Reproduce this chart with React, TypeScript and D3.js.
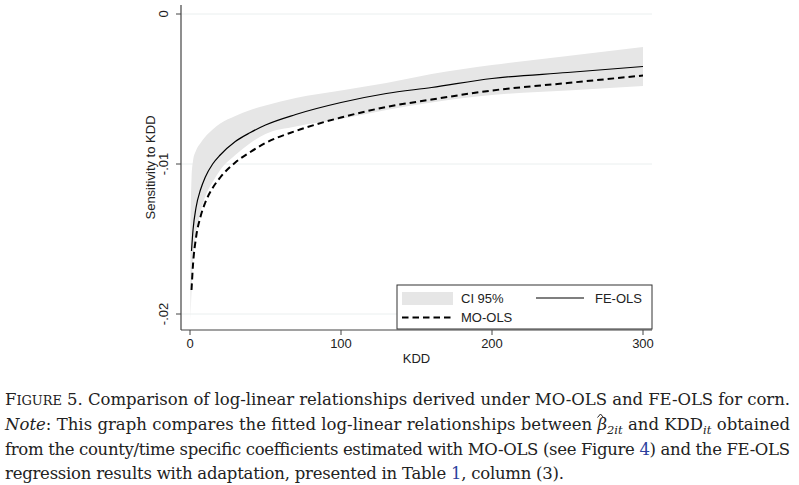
import React from "react";
import * as d3 from "d3";

// KDD grid and values
const kdd = [0.3, 1, 2, 4, 7, 10, 15, 20, 30, 40, 50, 70, 100, 130, 160, 200, 250, 300];
const feOls = [null, -0.0158, -0.0144, -0.0129, -0.0117, -0.0109, -0.01, -0.0094, -0.0085, -0.0079, -0.0074, -0.0067, -0.0059, -0.0053, -0.0049, -0.0043, -0.0039, -0.0035];
const moOls = [null, -0.0184, -0.0167, -0.0149, -0.0135, -0.0126, -0.0116, -0.0109, -0.0099, -0.0092, -0.0086, -0.0078, -0.0069, -0.0062, -0.0057, -0.0051, -0.0046, -0.0041];
const ciUpper = [-0.014, -0.011, -0.0098, -0.0091, -0.0086, -0.0082, -0.0077, -0.0073, -0.0068, -0.0064, -0.0061, -0.0056, -0.0051, -0.0046, -0.004, -0.0034, -0.0028, -0.0022];
const ciLower = [-0.0204, -0.0185, -0.0166, -0.0147, -0.0132, -0.0122, -0.0112, -0.0104, -0.0094, -0.0086, -0.008, -0.0075, -0.007, -0.0064, -0.0059, -0.0054, -0.0051, -0.0048];

const xTicks = [0, 100, 200, 300];
const yTicks = [0, -0.01, -0.02];
const yTickLabels = ["0", "-.01", "-.02"];

const W = 799;
const H = 485;
const left = 181;
const right = 652;
const top = 5;
const bottom = 330;

const sans = "'Liberation Sans', Arial, sans-serif";
const serif = "'DejaVu Serif', serif";
const linkBlue = "#2b3f9e";

export default function App() {
  const x = d3.scaleLinear().domain([0, 300]).range([190, 643]);
  const y = d3.scaleLinear().domain([-0.02, 0]).range([314, 14]);

  const rows = kdd.map((k, i) => ({ k, fe: feOls[i], mo: moOls[i], lo: ciLower[i], hi: ciUpper[i] }));

  const band = d3
    .area<any>()
    .x((d) => x(d.k))
    .y0((d) => y(d.lo))
    .y1((d) => y(d.hi))
    .curve(d3.curveMonotoneX)(rows);

  const feLine = d3
    .line<any>()
    .defined((d) => d.fe != null)
    .x((d) => x(d.k))
    .y((d) => y(d.fe))
    .curve(d3.curveMonotoneX)(rows);

  const moLine = d3
    .line<any>()
    .defined((d) => d.mo != null)
    .x((d) => x(d.k))
    .y((d) => y(d.mo))
    .curve(d3.curveMonotoneX)(rows);

  const axisColor = "#444";

  return (
    <svg width={W} height={H} style={{ position: "absolute", left: 0, top: 0, background: "#fff" }}>
      {/* grid */}
      {yTicks.map((t) => (
        <line key={"g" + t} x1={left} x2={right} y1={y(t)} y2={y(t)} stroke="#eaefef" strokeWidth={1} />
      ))}

      <path d={band!} fill="#e6e6e6" stroke="none" />
      <path d={feLine!} fill="none" stroke="#000" strokeWidth={1.2} />
      <path d={moLine!} fill="none" stroke="#000" strokeWidth={2} strokeDasharray="6.5,4" />

      {/* axes */}
      <line x1={left} x2={left} y1={top} y2={bottom} stroke={axisColor} strokeWidth={1.2} />
      <line x1={left} x2={right} y1={bottom} y2={bottom} stroke={axisColor} strokeWidth={1.2} />
      {yTicks.map((t, i) => (
        <g key={"y" + t}>
          <line x1={left - 5} x2={left} y1={y(t)} y2={y(t)} stroke={axisColor} />
          <text
            transform={`translate(168,${y(t)}) rotate(-90)`}
            textAnchor="middle"
            fontFamily={sans}
            fontSize={13}
            fill="#222"
          >
            {yTickLabels[i]}
          </text>
        </g>
      ))}
      {xTicks.map((t) => (
        <g key={"x" + t}>
          <line x1={x(t)} x2={x(t)} y1={bottom} y2={bottom + 5} stroke={axisColor} />
          <text x={x(t)} y={348} textAnchor="middle" fontFamily={sans} fontSize={13} fill="#222">
            {t}
          </text>
        </g>
      ))}
      <text x={(left + right) / 2} y={363} textAnchor="middle" fontFamily={sans} fontSize={13} fill="#222">
        KDD
      </text>
      <text
        transform={`translate(155,${(top + bottom) / 2}) rotate(-90)`}
        textAnchor="middle"
        fontFamily={sans}
        fontSize={13}
        fill="#222"
      >
        Sensitivity to KDD
      </text>

      {/* legend */}
      <rect x={397} y={285} width={255} height={44} fill="#fff" stroke="#333" strokeWidth={1} />
      <rect x={402} y={292} width={51} height={13} fill="#e6e6e6" />
      <text x={461} y={303} fontFamily={sans} fontSize={13} fill="#222">CI 95%</text>
      <line x1={536} x2={584} y1={298} y2={298} stroke="#000" strokeWidth={1.2} />
      <text x={595} y={303} fontFamily={sans} fontSize={13} fill="#222">FE-OLS</text>
      <line x1={402} x2={453} y1={317.5} y2={317.5} stroke="#000" strokeWidth={2} strokeDasharray="6.5,4" />
      <text x={461} y={322} fontFamily={sans} fontSize={13} fill="#222">MO-OLS</text>

      {/* caption */}
      <g fontFamily={serif} fontSize={16.5} fill="#222">
        <text x={5} y={405} textLength={785} lengthAdjust="spacing">
          <tspan>F</tspan>
          <tspan fontSize={13}>IGURE</tspan>
          <tspan> 5.  Comparison of log-linear relationships derived under MO-OLS and FE-OLS for corn.</tspan>
        </text>
        <text x={5} y={430} textLength={785} lengthAdjust="spacing">
          <tspan fontStyle="italic">Note</tspan>
          <tspan>: This graph compares the fitted log-linear relationships between </tspan>
          <tspan fontStyle="italic">{"\u03b2"}</tspan>
          <tspan fontStyle="italic" fontSize={11.5} dy={4}>2it</tspan>
          <tspan dy={-4}> and KDD</tspan>
          <tspan fontStyle="italic" fontSize={11.5} dy={4}>it</tspan>
          <tspan dy={-4}> obtained</tspan>
        </text>
        <path d="M597.5,417.5 L600.5,414 L603.5,417.5" fill="none" stroke="#222" strokeWidth={1} />
        <text x={5} y={455} textLength={785} lengthAdjust="spacing">
          <tspan>from the county/time specific coefficients estimated with MO-OLS (see Figure </tspan>
          <tspan fill={linkBlue}>4</tspan>
          <tspan>) and the FE-OLS</tspan>
        </text>
        <text x={5} y={479} textLength={559} lengthAdjust="spacing">
          <tspan>regression results with adaptation, presented in Table </tspan>
          <tspan fill={linkBlue}>1</tspan>
          <tspan>, column (3).</tspan>
        </text>
      </g>
    </svg>
  );
}
